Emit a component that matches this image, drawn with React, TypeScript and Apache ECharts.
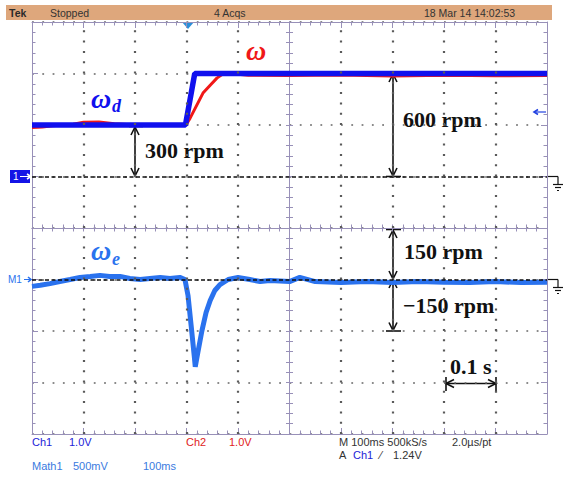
import React, { useEffect, useRef } from "react";
import * as echarts from "echarts";

// ---------- data (time in s, speeds in rpm) ----------
const tOmegaD = [0, 0.298, 0.316, 1.0];
const omegaD = [300, 300, 600, 600];

const tOmega = [0, 0.02, 0.04, 0.08, 0.1, 0.13, 0.16, 0.2, 0.25, 0.299, 0.307, 0.32, 0.332, 0.346, 0.359, 0.371, 0.385, 0.42, 0.5, 0.6, 0.7, 0.8, 0.9, 1.0];
const omega = [285, 288, 296, 305, 316, 318, 308, 300, 300, 300, 340, 416, 486, 532, 573, 598, 600, 590, 588, 591, 586, 590, 587, 588];

const tErr = [0, 0.016, 0.035, 0.054, 0.074, 0.093, 0.113, 0.132, 0.151, 0.171, 0.19, 0.21, 0.229, 0.249, 0.268, 0.287, 0.297, 0.303, 0.309, 0.315, 0.317, 0.322, 0.33, 0.338, 0.346, 0.355, 0.365, 0.381, 0.4, 0.423, 0.443, 0.462, 0.5, 0.52, 0.55, 0.6, 0.65, 0.7, 0.75, 0.8, 0.85, 0.9, 0.95, 1.0];
const omegaErr = [-20, -17, -12, -6, 0, 6, 9, 12, 9, 9, 3, 0, 3, 6, 3, 6, 0, -47, -134, -222, -254, -213, -149, -96, -61, -32, -15, 0, 6, 0, -6, -3, -6, 6, -6, -9, -6, -9, -6, -8, -9, -6, -9, -8];

// screen scales: 10 x 0.1 s, 8 divisions (ω: 300 rpm/div, ωe: 150 rpm/div)
const timeMin = 0, timeMax = 1, timeDiv = 0.1;
const timeGrid = [0.1, 0.2, 0.3, 0.4, 0.6, 0.7, 0.8, 0.9];
const omegaMin = -1500, omegaMax = 900, omegaDivVal = 300;
const errMin = -450, errMax = 750, errDivVal = 150;

const FRAME = "#9890b8";
const DOT = "#666666";
const SANS = '"Liberation Sans", Arial, sans-serif';
const SERIF = '"Liberation Serif", "Times New Roman", serif';

function App() {
  const ref = useRef<HTMLDivElement>(null);
  useEffect(() => {
    const chart = echarts.init(ref.current!, null, { renderer: "svg" });

    const dotted = () => ({ show: true, lineStyle: { color: DOT, type: [1.8, 8.5], width: 1.5 } });
    const noSplit = () => ({ show: false });

    const xBase = (extra: any) => ({
      type: "value", min: timeMin, max: timeMax, interval: timeDiv,
      axisLabel: { show: false },
      axisLine: { show: true, onZero: false, lineStyle: { color: FRAME, width: 1 } },
      ...extra,
    });
    const yBase = (extra: any) => ({
      type: "value", min: omegaMin, max: omegaMax, interval: omegaDivVal,
      axisLabel: { show: false },
      axisLine: { show: true, onZero: false, lineStyle: { color: FRAME, width: 1 } },
      ...extra,
    });
    const edgeTick = () => ({ show: true, inside: true, length: 6, lineStyle: { color: FRAME } });
    const edgeMinor = () => ({ show: true, splitNumber: 5, length: 3.5, lineStyle: { color: FRAME } });
    const crossTick = (inside: boolean) => ({ show: true, inside, length: 3.5, lineStyle: { color: FRAME } });
    const crossMinor = () => ({ show: true, splitNumber: 5, length: 3.5, lineStyle: { color: FRAME } });

    const dashRef = (color = "#111") => ({
      silent: true, symbol: "none", animation: false,
      label: { show: false },
      lineStyle: { color, type: [4, 2.5], width: 1.5 },
      data: [{ yAxis: 0 }],
    });
    const timeDots = {
      silent: true, symbol: "none", animation: false,
      label: { show: false },
      lineStyle: { color: "#5a5a5a", type: [2, 8.3], width: 2.2 },
      data: timeGrid.map((t) => ({ xAxis: t })),
    };

    const txt = (x: number, y: number, text: string, fill: string, font: string, extra: any = {}) => ({
      type: "text", x, y, silent: true,
      style: { text, fill, font, verticalAlign: "middle", align: "left", ...extra },
    });
    const line = (x1: number, y1: number, x2: number, y2: number, stroke = "#111", lineWidth = 1.6) => ({
      type: "line", silent: true, shape: { x1, y1, x2, y2 }, style: { stroke, lineWidth },
    });
    const head = (pts: number[][], stroke = "#111") => ({
      type: "polyline", silent: true, shape: { points: pts }, style: { stroke, lineWidth: 1.6, fill: null },
    });
    const vArrowUp = (x: number, y: number) => head([[x - 4, y + 8], [x, y], [x + 4, y + 8]]);
    const vArrowDown = (x: number, y: number) => head([[x - 4, y - 8], [x, y], [x + 4, y - 8]]);
    const ground = (y: number) => [
      line(547, y, 558, y, "#111", 1.2),
      line(558, y, 558, y + 8, "#111", 1.2),
      line(553, y + 8, 563, y + 8, "#111", 1.2),
      line(555, y + 11, 561, y + 11, "#111", 1.2),
      line(557, y + 14, 559, y + 14, "#111", 1.2),
    ];

    const hdr = `10.5px ${SANS}`;
    const bot = `11px ${SANS}`;

    chart.setOption({
      animation: false,
      backgroundColor: "#ffffff",
      grid: { left: 32, top: 22, width: 515, height: 412, containLabel: false },
      xAxis: [
        xBase({ position: "bottom", axisTick: edgeTick(), minorTick: edgeMinor(), splitLine: noSplit() }),
        xBase({ position: "top", axisTick: edgeTick(), minorTick: edgeMinor(), splitLine: noSplit() }),
        xBase({ position: "bottom", offset: -206, axisTick: crossTick(true), minorTick: crossMinor(), splitLine: noSplit() }),
        xBase({ position: "bottom", offset: -206, axisTick: crossTick(false), minorTick: crossMinor(), splitLine: noSplit() }),
      ],
      yAxis: [
        yBase({ position: "left", axisTick: edgeTick(), minorTick: edgeMinor(), splitLine: dotted() }),
        { type: "value", min: errMin, max: errMax, interval: errDivVal, show: false, splitLine: noSplit() },
        yBase({ position: "right", axisTick: edgeTick(), minorTick: edgeMinor(), splitLine: noSplit() }),
        yBase({ position: "left", offset: -257.5, axisTick: crossTick(true), minorTick: crossMinor(), splitLine: noSplit() }),
        yBase({ position: "left", offset: -257.5, axisTick: crossTick(false), minorTick: crossMinor(), splitLine: noSplit() }),
      ],
      series: [
        {
          name: "ω", type: "line", xAxisIndex: 0, yAxisIndex: 0, showSymbol: false, symbol: "none",
          data: tOmega.map((t, i) => [t, omega[i]]),
          lineStyle: { color: "#f01818", width: 3 }, z: 2,
          markLine: dashRef(),
        },
        {
          name: "ωd", type: "line", xAxisIndex: 0, yAxisIndex: 0, showSymbol: false, symbol: "none",
          data: tOmegaD.map((t, i) => [t, omegaD[i]]),
          lineStyle: { color: "#1010ee", width: 5.5 }, z: 3,
          markLine: timeDots,
        },
        {
          name: "ωe", type: "line", xAxisIndex: 0, yAxisIndex: 1, showSymbol: false, symbol: "none",
          data: tErr.map((t, i) => [t, omegaErr[i]]),
          lineStyle: { color: "#2a72ee", width: 5 }, z: 3,
          markLine: dashRef(),
        },
      ],
      graphic: [
        // header bar
        { type: "rect", silent: true, shape: { x: 6, y: 5, width: 546, height: 15 }, style: { fill: "#dea77c" } },
        txt(9, 12.5, "Tek", "#2a2a2a", `bold ${hdr}`),
        txt(50, 12.5, "Stopped", "#333", hdr),
        txt(214, 12.5, "4 Acqs", "#333", hdr),
        txt(424, 12.5, "18 Mar 14 14:02:53", "#333", hdr),
        // trigger marker
        { type: "polygon", silent: true, shape: { points: [[182, 22], [194, 22], [188, 29]] }, style: { fill: "#2b8fd9" } },
        // channel 1 marker
        { type: "rect", silent: true, shape: { x: 10, y: 170, width: 20, height: 13 }, style: { fill: "#1414e6" } },
        txt(13, 176.5, "1", "#ffffff", `10px ${SANS}`),
        line(20, 176.5, 31, 176.5, "#ffffff", 1),
        head([[27, 174], [31, 176.5], [27, 179]], "#ffffff"),
        // math marker
        txt(8, 279.5, "M1", "#2a72ee", `10px ${SANS}`),
        line(24, 279.5, 31, 279.5, "#2a72ee", 1),
        head([[28, 277], [31, 279.5], [28, 282]], "#2a72ee"),
        // small arrow at right
        line(534, 112, 546, 112, "#2040e0", 1.2),
        head([[538, 109.5], [534, 112], [538, 114.5]], "#2040e0"),
        ...ground(176.5),
        ...ground(279.5),
        // labels of traces
        txt(246, 50, "ω", "#f01818", `italic bold 28px ${SERIF}`),
        txt(91, 98, "ω", "#1010ee", `italic bold 28px ${SERIF}`),
        txt(112, 106, "d", "#1010ee", `italic bold 18px ${SERIF}`),
        txt(91, 250, "ω", "#2a72ee", `italic bold 28px ${SERIF}`),
        txt(112, 259, "e", "#2a72ee", `italic bold 18px ${SERIF}`),
        // 300 rpm arrow
        line(135, 127, 135, 176), line(129, 126.5, 143, 126.5),
        vArrowUp(135, 127), vArrowDown(135, 176),
        txt(145, 150, "300 rpm", "#111", `bold 22px ${SERIF}`),
        // 600 rpm arrow
        line(393, 74, 393, 176), line(386, 74, 401, 74), line(386, 176.5, 401, 176.5),
        vArrowUp(393, 74), vArrowDown(393, 176),
        txt(403, 119, "600 rpm", "#111", `bold 22px ${SERIF}`),
        // ±150 rpm arrows
        line(393, 229.5, 393, 331), line(386, 229.5, 401, 229.5), line(386, 331, 401, 331),
        vArrowUp(393, 230), vArrowDown(393, 279), vArrowUp(393, 280), vArrowDown(393, 330.5),
        txt(404, 251, "150 rpm", "#111", `bold 22px ${SERIF}`),
        txt(403, 305, "−150 rpm", "#111", `bold 22px ${SERIF}`),
        // 0.1 s arrow
        line(446, 383.5, 496, 383.5), line(446, 377, 446, 391), line(496, 377, 496, 391),
        head([[454, 379.5], [446, 383.5], [454, 387.5]]), head([[488, 379.5], [496, 383.5], [488, 387.5]]),
        txt(450, 366, "0.1 s", "#111", `bold 22px ${SERIF}`),
        // bottom status text
        txt(32, 442, "Ch1", "#2323d8", bot),
        txt(69, 442, "1.0V", "#2323d8", bot),
        txt(186, 442, "Ch2", "#e02222", bot),
        txt(229, 442, "1.0V", "#e02222", bot),
        txt(339, 442, "M 100ms 500kS/s", "#333", bot),
        txt(452, 442, "2.0µs/pt", "#333", bot),
        txt(339, 455, "A", "#333", bot),
        txt(353, 455, "Ch1", "#2323d8", bot),
        txt(380, 455, "⁄", "#333", bot),
        txt(393, 455, "1.24V", "#333", bot),
        txt(32, 466, "Math1", "#3a7ae0", bot),
        txt(73, 466, "500mV", "#3a7ae0", bot),
        txt(143, 466, "100ms", "#3a7ae0", bot),
      ],
    });
    return () => chart.dispose();
  }, []);
  return <div ref={ref} style={{ position: "fixed", left: 0, top: 0, width: 563, height: 478 }} />;
}

export default App;
